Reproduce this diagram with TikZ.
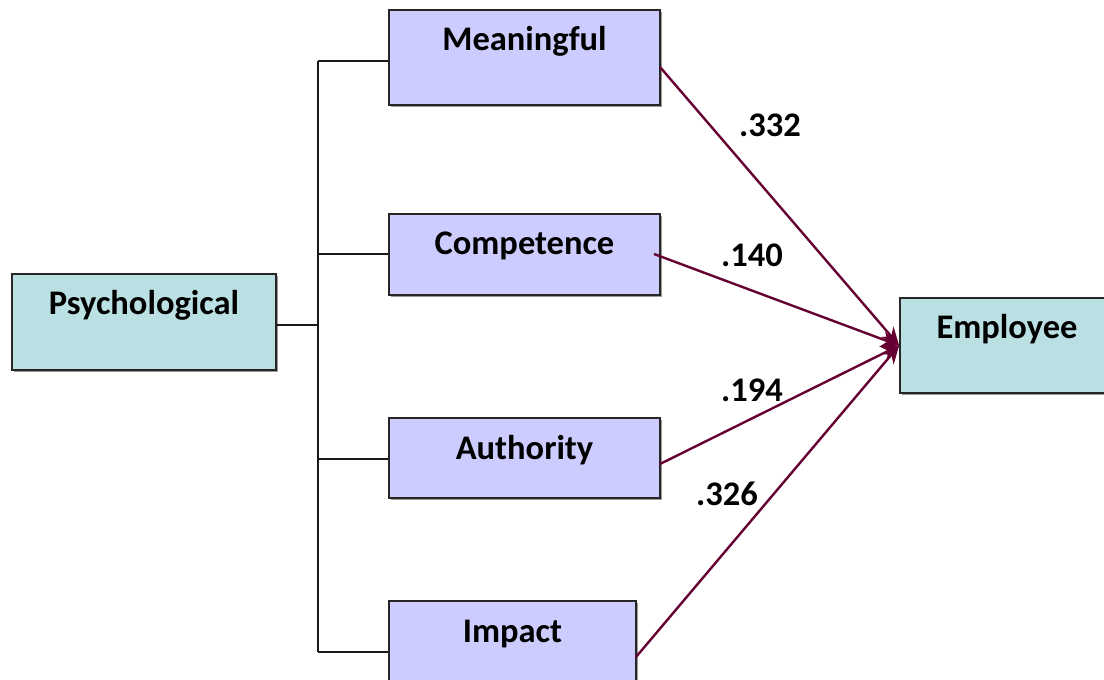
\documentclass[tikz,border=0pt]{standalone}
\usepackage{fontspec}
\setmainfont{Carlito}
\usetikzlibrary{arrows.meta,shadows,calc}
\definecolor{lav}{HTML}{CCCCFF}
\definecolor{teal}{HTML}{BAE0E3}
\definecolor{maroon}{HTML}{660033}
\tikzset{
  box/.style={draw=black!85, line width=1.7pt, inner sep=0pt,
    drop shadow={shadow xshift=1.6pt, shadow yshift=-1.6pt, fill=black!40, opacity=1}},
  lavbox/.style={box, fill=lav},
  tealbox/.style={box, fill=teal},
  txt/.style={font=\bfseries\fontsize{34.5}{38}\selectfont, inner sep=0pt, anchor=base},
  num/.style={font=\bfseries\fontsize{34.5}{38}\selectfont, inner sep=0pt},
  bracket/.style={draw=black!90, line width=1.7pt},
  path/.style={draw=maroon, line width=2.4pt},
  arr/.style={path, -{Stealth[length=18pt,width=16pt]}},
}
\begin{document}
\begin{tikzpicture}[x=1pt,y=-1pt]
\useasboundingbox (0,0) rectangle (1104,680);
% boxes
\node[tealbox, minimum width=264pt, minimum height=96pt] (psy) at (144,322) {};
\node[lavbox, minimum width=271pt, minimum height=95pt] (mea) at (524.5,57.5) {};
\node[lavbox, minimum width=271pt, minimum height=81pt] (com) at (524.5,254.5) {};
\node[lavbox, minimum width=271pt, minimum height=80pt] (aut) at (524.5,458) {};
\node[lavbox, minimum width=247pt, minimum height=90pt] (imp) at (512.5,646) {};
\node[tealbox, minimum width=214pt, minimum height=95pt] (emp) at (1007,345.5) {};
% texts
\node[txt] (tpsy) at ($(psy.north)+(0,41)$) {Psychological};
\node[txt] (tmea) at ($(mea.north)+(0,41)$) {Meaningful};
\node[txt] (tcom) at ($(com.north)+(0,41)$) {Competence};
\node[txt] (taut) at ($(aut.north)+(0,42)$) {Authority};
\node[txt] (timp) at ($(imp.north)+(0,42)$) {Impact};
\node[txt] (temp) at ($(emp.north)+(0,41)$) {Employee};
% bracket
\coordinate (bt) at (318,61);
\coordinate (bb) at (318,652);
\coordinate (bm) at (318,325);
\draw[bracket] (bt) -- (bb);
\draw[bracket] (psy.east |- bm) -- (bm);
\draw[bracket] (bt) -- (mea.west |- bt);
\draw[bracket] (318,254) -- (com.west |- 0,254);
\draw[bracket] (318,459) -- (aut.west |- 0,459);
\draw[bracket] (bb) -- (imp.west |- bb);
% arrows
\coordinate (s1) at (660,67);
\coordinate (s2) at (654,254);
\coordinate (s3) at (660,464);
\coordinate (s4) at (636,657);
\draw[arr] (s1) -- (emp.west);
\draw[arr] (s2) -- (emp.west);
\draw[arr] (s3) -- (emp.west);
\draw[arr] (s4) -- (emp.west);
% numbers
\node[num] (n1) at (770,125) {.332};
\node[num] (n2) at (752,255) {.140};
\node[num] (n3) at (752,390) {.194};
\node[num] (n4) at (727,494) {.326};
\end{tikzpicture}
\end{document}
